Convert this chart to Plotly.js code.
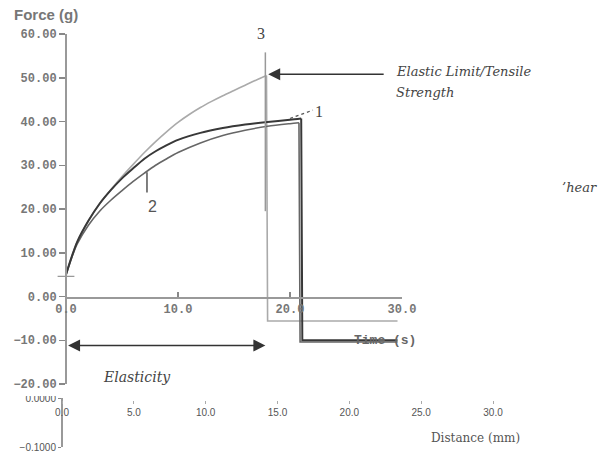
<!DOCTYPE html>
<html>
<head>
<meta charset="utf-8">
<script src="https://cdn.plot.ly/plotly-3.0.1.min.js"></script>
<style>html,body{margin:0;padding:0;background:#fff;}#chart{width:613px;height:457px;}</style>
</head>
<body>
<div id="chart"></div>
<script>
// ---- data ----
const timeTicks = [0, 10, 20, 30];
const forceTicks = [-20, -10, 0, 10, 20, 30, 40, 50, 60];
const distTicks = [0, 5, 10, 15, 20, 25, 30];
const distYTicks = [-0.1, 0];

// Curve 1 (dark): loading part and post-break part
const t1Rise = [0, 0.5, 1, 2, 3, 4, 5, 6, 7, 8, 9, 10, 12, 14, 16, 18, 20, 21];
const f1Rise = [5, 9, 12.5, 17.3, 21.2, 24.3, 27, 29.3, 31.5, 33.2, 34.6, 35.8, 37.4, 38.5, 39.3, 39.9, 40.4, 40.7];
const t1Drop = [21, 21.1, 24, 27, 29.6];
const f1Drop = [40.7, -10, -10, -10, -10];
// Curve 2 (medium)
const t2Rise = [0, 0.5, 1, 2, 3, 4, 5, 6, 7, 8, 9, 10, 12, 14, 16, 18, 20, 20.8];
const f2Rise = [5, 8.8, 12, 16.3, 19.5, 22, 24.2, 26.3, 28.2, 30, 31.5, 32.9, 35.1, 36.8, 38, 38.9, 39.5, 39.7];
const t2Drop = [20.8, 20.9, 29.6];
const f2Drop = [39.7, -10.4, -10.4];
// Curve 3 (light)
const t3Rise = [0, 0.5, 1, 2, 3, 4, 5, 6, 7, 8, 9, 10, 11, 12, 13, 14, 15, 16, 17, 17.9];
const f3Rise = [5, 9, 12.5, 17.3, 21.2, 24.4, 27.4, 30.2, 32.9, 35.4, 37.7, 39.8, 41.6, 43.2, 44.6, 45.9, 47.1, 48.3, 49.5, 50.5];
const t3Drop = [17.9, 18.0, 29.6];
const f3Drop = [50.5, -5.6, -5.6];

const startT = [0];
const startF = [4.6];

// ---- helpers ----
const W = 613, H = 457;
const px = v => v / W;
const py = v => 1 - v / H;

const monoTick = {family: 'Liberation Mono, monospace', size: 12, color: '#777', weight: 'bold'};
const serifIt = {family: 'DejaVu Serif, serif', size: 13, color: '#444'};

function line(x, y, color, width, shape) {
  return {x: x, y: y, type: 'scatter', mode: 'lines', line: {color: color, width: width, shape: shape, smoothing: 0.8},
          xaxis: 'x', yaxis: 'y', hoverinfo: 'skip'};
}

const traces = [
  line(t3Rise, f3Rise, '#aaaaaa', 1.6, 'spline'),
  line(t3Drop, f3Drop, '#aaaaaa', 1.6, 'linear'),
  line(t2Rise, f2Rise, '#666666', 1.6, 'spline'),
  line(t2Drop, f2Drop, '#666666', 1.6, 'linear'),
  line(t1Rise, f1Rise, '#383838', 2, 'spline'),
  line(t1Drop, f1Drop, '#383838', 2, 'linear'),
  {x: startT, y: startF, type: 'scatter', mode: 'markers',
   marker: {symbol: 'cross-thin-open', size: 12, color: '#999', line: {color: '#999', width: 1.2}},
   xaxis: 'x', yaxis: 'y', hoverinfo: 'skip', cliponaxis: false}
];

const layout = {
  width: W, height: H,
  margin: {l: 0, r: 0, t: 0, b: 0},
  paper_bgcolor: '#fff', plot_bgcolor: 'rgba(0,0,0,0)',
  showlegend: false,
  xaxis: {
    domain: [px(66), px(402)], range: [0, 30], anchor: 'free', position: py(297),
    tickvals: timeTicks, tickformat: '.1f', ticks: 'inside', ticklen: 5, tickcolor: '#888', tickwidth: 1.5,
    showline: true, linecolor: '#999', linewidth: 1.5, showgrid: false, zeroline: false,
    tickfont: monoTick
  },
  yaxis: {
    domain: [py(384), py(34)], range: [-20, 60], anchor: 'free', position: px(66),
    tickvals: forceTicks, tickformat: '.2f', ticks: 'outside', ticklen: 6, tickcolor: '#888', tickwidth: 1.5,
    showline: true, linecolor: '#999', linewidth: 2, showgrid: false, zeroline: false,
    tickfont: monoTick
  },
  xaxis2: {
    domain: [px(62), px(493)], range: [0, 30], anchor: 'free', position: py(400),
    tickvals: distTicks, tickformat: '.1f', ticks: 'outside', ticklen: 3, tickcolor: '#aaa', tickwidth: 1,
    showline: false, showgrid: false, zeroline: false,
    tickfont: {family: 'Liberation Sans, sans-serif', size: 10, color: '#555'}
  },
  yaxis2: {
    domain: [py(447), py(398)], range: [-0.1, 0], anchor: 'free', position: px(61),
    tickvals: distYTicks, tickformat: '.4f', ticks: 'outside', ticklen: 3, tickcolor: '#888', tickwidth: 1,
    showline: true, linecolor: '#999', linewidth: 1.5, showgrid: false, zeroline: false,
    tickfont: {family: 'Liberation Sans, sans-serif', size: 10, color: '#555'}
  },
  shapes: [
    {type: 'line', xref: 'x', yref: 'y', x0: 17.8, x1: 17.8, y0: 55.8, y1: 19.5, line: {color: '#999', width: 1.5}},
    {type: 'line', xref: 'x', yref: 'y', x0: 20.0, y0: 40.7, x1: 22.05, y1: 42.6, line: {color: '#555', width: 1.2, dash: 'dot'}},
    {type: 'line', xref: 'x', yref: 'y', x0: 7.23, y0: 28.4, x1: 7.23, y1: 23.8, line: {color: '#555', width: 1.5}},
    {type: 'rect', xref: 'paper', yref: 'paper', x0: px(14), x1: px(59), y0: py(396), y1: py(389), fillcolor: '#fff', line: {width: 0}, layer: 'above'}
  ],
  annotations: [
    {xref: 'paper', yref: 'paper', x: px(12), y: py(15), xanchor: 'left', yanchor: 'middle', showarrow: false,
     text: '<b>Force (g)</b>', font: {family: 'Liberation Sans, Arial, sans-serif', size: 15, color: '#777'}},
    {xref: 'paper', yref: 'paper', x: px(261), y: py(33), xanchor: 'center', yanchor: 'middle', showarrow: false,
     text: '3', font: {family: 'Liberation Serif, serif', size: 16, color: '#444'}},
    {xref: 'paper', yref: 'paper', x: px(319), y: py(111), xanchor: 'center', yanchor: 'middle', showarrow: false,
     text: '1', font: {family: 'Liberation Serif, serif', size: 16, color: '#444'}},
    {xref: 'paper', yref: 'paper', x: px(152), y: py(206), xanchor: 'center', yanchor: 'middle', showarrow: false,
     text: '2', font: {family: 'Liberation Sans, sans-serif', size: 16, color: '#555'}},
    {xref: 'x', yref: 'y', x: 18.05, y: 50.8, ax: 117, ay: 0, text: '', showarrow: true,
     arrowhead: 2, arrowsize: 1.6, arrowwidth: 1.5, arrowcolor: '#333', standoff: 0},
    {xref: 'paper', yref: 'paper', x: px(394), y: py(71), xanchor: 'left', yanchor: 'middle', showarrow: false,
     text: '<i>Elastic Limit/Tensile</i>', font: serifIt},
    {xref: 'paper', yref: 'paper', x: px(394), y: py(92), xanchor: 'left', yanchor: 'middle', showarrow: false,
     text: '<i>Strength</i>', font: serifIt},
    {xref: 'x', yref: 'y', axref: 'x', ayref: 'y', x: 17.8, y: -11.2, ax: 0.05, ay: -11.2, text: '', showarrow: true,
     arrowside: 'end+start', arrowhead: 2, startarrowhead: 2, arrowsize: 1.6, startarrowsize: 1.6, arrowwidth: 1.5, arrowcolor: '#333', standoff: 0, startstandoff: 0},
    {xref: 'paper', yref: 'paper', x: px(137), y: py(377), xanchor: 'center', yanchor: 'middle', showarrow: false,
     text: '<i>Elasticity</i>', font: {family: 'DejaVu Serif, serif', size: 14, color: '#444'}},
    {xref: 'paper', yref: 'paper', x: px(385), y: py(340), xanchor: 'center', yanchor: 'middle', showarrow: false,
     text: 'Time (s)', font: {family: 'Liberation Mono, monospace', size: 13, color: '#666', weight: 'bold'}},
    {xref: 'paper', yref: 'paper', x: px(475), y: py(438), xanchor: 'center', yanchor: 'middle', showarrow: false,
     text: 'Distance (mm)', font: {family: 'DejaVu Serif, serif', size: 12, color: '#555'}},
    {xref: 'paper', yref: 'paper', x: px(579), y: py(187), xanchor: 'center', yanchor: 'middle', showarrow: false,
     text: '<i>\u2019hear</i>', font: {family: 'DejaVu Serif, serif', size: 13, color: '#444'}}
  ]
};

traces.push({x: [0], y: [-0.05], xaxis: 'x2', yaxis: 'y2', type: 'scatter', mode: 'markers', marker: {opacity: 0}, hoverinfo: 'skip'});

Plotly.newPlot('chart', traces, layout, {displayModeBar: false, staticPlot: true});
</script>
</body>
</html>
